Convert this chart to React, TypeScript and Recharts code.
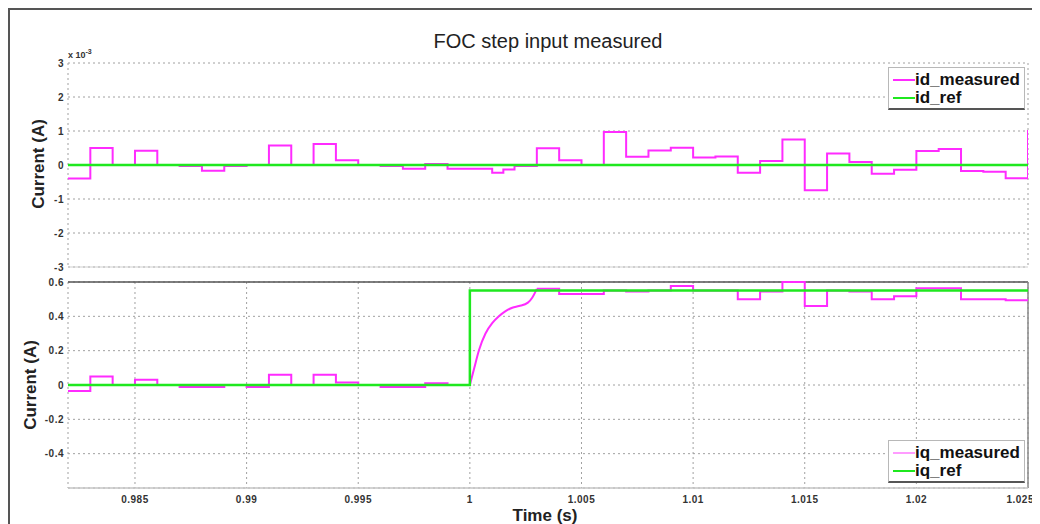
import { LineChart, Line, XAxis, YAxis, CartesianGrid, Legend, ReferenceLine } from 'recharts'

const FONT = '"Liberation Sans", Arial, sans-serif'
const MAGENTA = '#ff2bff'
const MAGENTA_LIGHT = '#ff9cff'
const GREEN = '#1fe81f'
const GRID = '#a0a0a0'

// time axis (s)
const tStart = 0.982
const tEnd = 1.025
const timeTicks = [0.985, 0.99, 0.995, 1, 1.005, 1.01, 1.015, 1.02, 1.025]

// d-axis current, plotted in units of 1e-3 A
const idTimes = [
  0.982, 0.983, 0.984, 0.985, 0.986, 0.987, 0.988, 0.989, 0.99, 0.991,
  0.992, 0.993, 0.994, 0.995, 0.996, 0.997, 0.998, 0.999, 1.0, 1.001,
  1.0015, 1.002, 1.003, 1.004, 1.005, 1.006, 1.007, 1.008, 1.009, 1.01,
  1.011, 1.012, 1.013, 1.014, 1.015, 1.016, 1.017, 1.018, 1.019, 1.02,
  1.021, 1.022, 1.023, 1.024, 1.025,
]
const idMeasured = [
  -0.4, 0.5, 0.0, 0.42, 0.0, -0.03, -0.17, -0.03, 0.0, 0.57,
  0.0, 0.62, 0.14, 0.0, -0.03, -0.11, 0.03, -0.11, -0.11, -0.23,
  -0.13, -0.03, 0.49, 0.14, 0.0, 0.97, 0.24, 0.43, 0.51, 0.22,
  0.25, -0.23, 0.12, 0.75, -0.74, 0.34, 0.09, -0.26, -0.14, 0.41,
  0.47, -0.18, -0.2, -0.39, 1.03,
]
const idRefTimes = [0.982, 1.025]
const idRef = [0, 0]
const idTicks = [-3, -2, -1, 0, 1, 2, 3]

// q-axis current (A): sampled hold before and after the step
const iqTimes = [
  0.982, 0.983, 0.984, 0.985, 0.986, 0.987, 0.988, 0.989, 0.99, 0.991,
  0.992, 0.993, 0.994, 0.995, 0.996, 0.997, 0.998, 0.999, 1.0,
  1.003, 1.004, 1.005, 1.006, 1.007, 1.008, 1.009, 1.01, 1.011, 1.012,
  1.013, 1.014, 1.015, 1.016, 1.017, 1.018, 1.019, 1.02, 1.021, 1.022,
  1.023, 1.024, 1.025,
]
const iqMeasured = [
  -0.035, 0.05, 0.0, 0.03, 0.0, -0.012, -0.012, 0.0, -0.012, 0.06,
  0.0, 0.06, 0.015, 0.0, -0.012, -0.012, 0.01, 0.0, null,
  0.56, 0.53, 0.53, 0.55, 0.545, 0.55, 0.576, 0.55, 0.55, 0.5,
  0.545, 0.6, 0.46, 0.55, 0.545, 0.5, 0.517, 0.563, 0.563, 0.5,
  0.5, 0.494, 0.494,
]
// q-axis current during the rise right after the step
const iqRiseTimes = [1.0, 1.0002, 1.0004, 1.0007, 1.001, 1.0013, 1.0016, 1.0019, 1.0022, 1.0026, 1.0028, 1.003]
const iqRise = [0.0, 0.1, 0.2, 0.3, 0.36, 0.4, 0.43, 0.45, 0.46, 0.48, 0.51, 0.56]
const iqRefTimes = [0.982, 1.0, 1.025]
const iqRef = [0, 0.55, 0.55]
const iqTicks = [-0.4, -0.2, 0, 0.2, 0.4, 0.6]

const toPoints = (ts: number[], vs: (number | null)[]) => ts.map((t, i) => ({ t, v: vs[i] }))

const tickStyle = { fontSize: 10, fontWeight: 700, fill: '#333', fontFamily: FONT, letterSpacing: 0.5 }

// last time label is pulled left so it stays inside the frame
function TimeTick({ x, y, payload }: any) {
  const last = payload.value === tEnd
  return (
    <text x={last ? x + 6 : x} y={y} dy="0.71em" textAnchor={last ? 'end' : 'middle'} {...tickStyle}>
      {String(payload.value)}
    </text>
  )
}

type LegendItem = { label: string; color: string }

function LegendBox({ items }: { items: LegendItem[] }) {
  return (
    <div
      style={{
        width: 137,
        height: 43,
        boxSizing: 'border-box',
        background: '#fff',
        border: '1px solid #b8b8b8',
        borderBottom: '2px solid #555',
        padding: '3px 0 0 4px',
        fontFamily: FONT,
      }}
    >
      {items.map((it) => (
        <div key={it.label} style={{ display: 'flex', alignItems: 'center', height: 18 }}>
          <span style={{ width: 22, height: 2, background: it.color, display: 'inline-block' }} />
          <span style={{ fontSize: 17, fontWeight: 700, color: '#111', lineHeight: '18px' }}>{it.label}</span>
        </div>
      ))}
    </div>
  )
}

const yLabelStyle: React.CSSProperties = {
  position: 'absolute',
  width: 140,
  textAlign: 'center',
  fontFamily: FONT,
  fontSize: 17,
  fontWeight: 700,
  color: '#222',
  transform: 'rotate(-90deg)',
}

export default function App() {
  return (
    <div style={{ position: 'relative', width: 1032, height: 516, background: '#fff', overflow: 'hidden' }}>
      <div
        style={{
          position: 'absolute',
          inset: 0,
          borderTop: '2px solid #555',
          borderLeft: '2px solid #555',
          pointerEvents: 'none',
        }}
      />
      <div
        style={{
          position: 'absolute',
          left: 340,
          top: 22,
          width: 400,
          textAlign: 'center',
          fontFamily: FONT,
          fontSize: 20,
          color: '#222',
        }}
      >
        FOC step input measured
      </div>
      <div style={{ position: 'absolute', left: 60, top: 40, fontFamily: FONT, fontSize: 9, fontWeight: 700, color: '#333' }}>
        x 10<sup style={{ fontSize: 7 }}>-3</sup>
      </div>
      <div style={{ ...yLabelStyle, left: -39, top: 146 }}>Current (A)</div>
      <div style={{ ...yLabelStyle, left: -47, top: 367 }}>Current (A)</div>

      {/* id panel */}
      <div style={{ position: 'absolute', left: 0, top: 0 }}>
        <LineChart width={1032} height={268} margin={{ top: 55, right: 12, bottom: 8, left: 30 }}>
          <CartesianGrid stroke={GRID} strokeDasharray="2 3" />
          <XAxis
            type="number"
            dataKey="t"
            domain={[tStart, tEnd]}
            ticks={timeTicks}
            allowDataOverflow
            tick={false}
            tickLine={false}
            height={1}
            axisLine={{ stroke: '#cfcfcf' }}
          />
          <YAxis
            type="number"
            domain={[-3, 3]}
            ticks={idTicks}
            interval={0}
            width={30}
            tickSize={3}
            tickMargin={1}
            tickLine={false}
            axisLine={false}
            tick={tickStyle}
          />
          <Line
            data={toPoints(idTimes, idMeasured)}
            dataKey="v"
            type="stepAfter"
            stroke={MAGENTA}
            strokeWidth={2}
            dot={false}
            isAnimationActive={false}
          />
          <Line
            data={toPoints(idRefTimes, idRef)}
            dataKey="v"
            type="stepAfter"
            stroke={GREEN}
            strokeWidth={2.5}
            dot={false}
            isAnimationActive={false}
          />
          <Legend
            layout="vertical"
            align="center"
            verticalAlign="middle"
            wrapperStyle={{ left: 880, top: 59, width: 'auto' }}
            content={() => (
              <LegendBox
                items={[
                  { label: 'id_measured', color: MAGENTA },
                  { label: 'id_ref', color: GREEN },
                ]}
              />
            )}
          />
        </LineChart>
      </div>

      {/* iq panel */}
      <div style={{ position: 'absolute', left: 0, top: 262 }}>
        <LineChart width={1032} height={262} margin={{ top: 12, right: 12, bottom: 14, left: 30 }}>
          <CartesianGrid stroke={GRID} strokeDasharray="2 3" />
          <XAxis
            type="number"
            dataKey="t"
            domain={[tStart, tEnd]}
            ticks={timeTicks}
            interval={0}
            allowDataOverflow
            height={30}
            tickLine={false}
            axisLine={{ stroke: '#c4c4c4', strokeWidth: 1.5 }}
            tick={<TimeTick />}
          />
          <YAxis
            type="number"
            domain={[-0.6, 0.6]}
            ticks={iqTicks}
            interval={0}
            width={30}
            tickSize={3}
            tickMargin={1}
            tickLine={false}
            axisLine={false}
            tick={tickStyle}
          />
          <ReferenceLine y={0.6} stroke="#555" strokeWidth={1.5} />
          <ReferenceLine x={tEnd} stroke="#888" strokeWidth={1.5} />
          <Line
            data={toPoints(iqTimes, iqMeasured)}
            dataKey="v"
            type="stepAfter"
            stroke={MAGENTA}
            strokeWidth={2}
            dot={false}
            isAnimationActive={false}
          />
          <Line
            data={toPoints(iqRiseTimes, iqRise)}
            dataKey="v"
            type="monotone"
            stroke={MAGENTA}
            strokeWidth={2}
            dot={false}
            isAnimationActive={false}
          />
          <Line
            data={toPoints(iqRefTimes, iqRef)}
            dataKey="v"
            type="stepAfter"
            stroke={GREEN}
            strokeWidth={2.5}
            dot={false}
            isAnimationActive={false}
          />
          <Legend
            layout="vertical"
            align="center"
            verticalAlign="middle"
            wrapperStyle={{ left: 880, top: 170, width: 'auto' }}
            content={() => (
              <LegendBox
                items={[
                  { label: 'iq_measured', color: MAGENTA_LIGHT },
                  { label: 'iq_ref', color: GREEN },
                ]}
              />
            )}
          />
        </LineChart>
      </div>

      <div
        style={{
          position: 'absolute',
          left: 437,
          top: 498,
          width: 200,
          textAlign: 'center',
          fontFamily: FONT,
          fontSize: 17,
          fontWeight: 700,
          color: '#222',
        }}
      >
        Time (s)
      </div>
    </div>
  )
}
